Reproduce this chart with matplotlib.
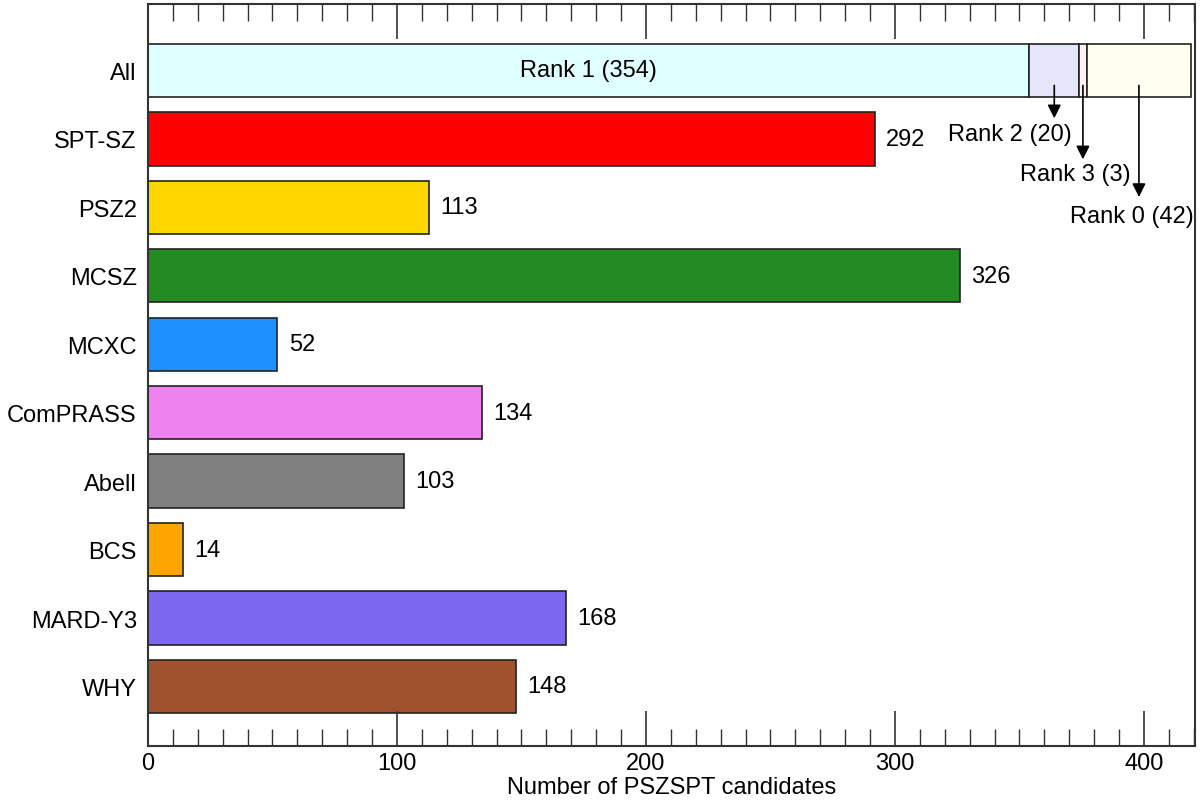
import numpy as np
import matplotlib.pyplot as plt

plt.rcParams['font.family'] = ['Liberation Sans', 'DejaVu Sans']

catalogues = ["All", "SPT-SZ", "PSZ2", "MCSZ", "MCXC", "ComPRASS", "Abell", "BCS", "MARD-Y3", "WHY"]
counts = [None, 292, 113, 326, 52, 134, 103, 14, 168, 148]
colors = [None, "red", "gold", "forestgreen", "dodgerblue", "violet", "gray", "orange",
          "mediumslateblue", "sienna"]

rank_names = ["Rank 1", "Rank 2", "Rank 3", "Rank 0"]
rank_counts = [354, 20, 3, 42]
rank_colors = ["lightcyan", "lavender", "lavenderblush", "ivory"]

fs = 17

fig = plt.figure(figsize=(12, 8.03), dpi=100)
ax = fig.add_axes([0.1233, 0.0697, 0.8725, 0.9241])

ypos = np.arange(len(catalogues))
h = 0.78
ec = "#222222"

# stacked "All" bar
left = 0
centers = []
for n, c in zip(rank_counts, rank_colors):
    ax.barh(0, n, left=left, height=h, color=c, edgecolor=ec, linewidth=1.2)
    centers.append(left + n / 2)
    left += n

ax.text(centers[0], 0, f"{rank_names[0]} ({rank_counts[0]})", ha="center", va="center", fontsize=fs)

# arrows + labels for small ranks
arrow_end = [0.70, 1.30, 1.85]
text_pos = [(346, 0.93), (372.5, 1.52), (395, 2.13)]
for k in range(1, 4):
    ax.annotate("", xy=(centers[k], arrow_end[k - 1]), xytext=(centers[k], 0.22),
                arrowprops=dict(arrowstyle="-|>", color="black", lw=1.2,
                                mutation_scale=20, shrinkA=0, shrinkB=0))
    tx, ty = text_pos[k - 1]
    ax.text(tx, ty, f"{rank_names[k]} ({rank_counts[k]})", ha="center", va="center", fontsize=fs)

for i in range(1, len(catalogues)):
    ax.barh(ypos[i], counts[i], height=h, color=colors[i], edgecolor=ec, linewidth=1.2)
    ax.text(counts[i] + 4.5, ypos[i], str(counts[i]), ha="left", va="center", fontsize=fs)

ax.set_yticks(ypos)
ax.set_yticklabels(catalogues, fontsize=fs)
ax.tick_params(axis="y", length=0, pad=8)

ax.set_xlim(0, 420.5)
ax.set_ylim(9.87, -0.97)
ax.set_xticks([0, 100, 200, 300, 400])
ax.set_xticks(np.arange(0, 421, 10), minor=True)
ax.tick_params(axis="x", which="major", direction="in", top=True, bottom=True,
               length=25, width=1.2, labelsize=fs, pad=4, color="#333333")
ax.tick_params(axis="x", which="minor", direction="in", top=True, bottom=True,
               length=12, width=1.0, color="#333333")
for s in ax.spines.values():
    s.set_linewidth(1.5)
    s.set_color("#333333")

ax.set_xlabel("Number of PSZSPT candidates", fontsize=fs, labelpad=2)

fig.savefig("out.png", dpi=100)
